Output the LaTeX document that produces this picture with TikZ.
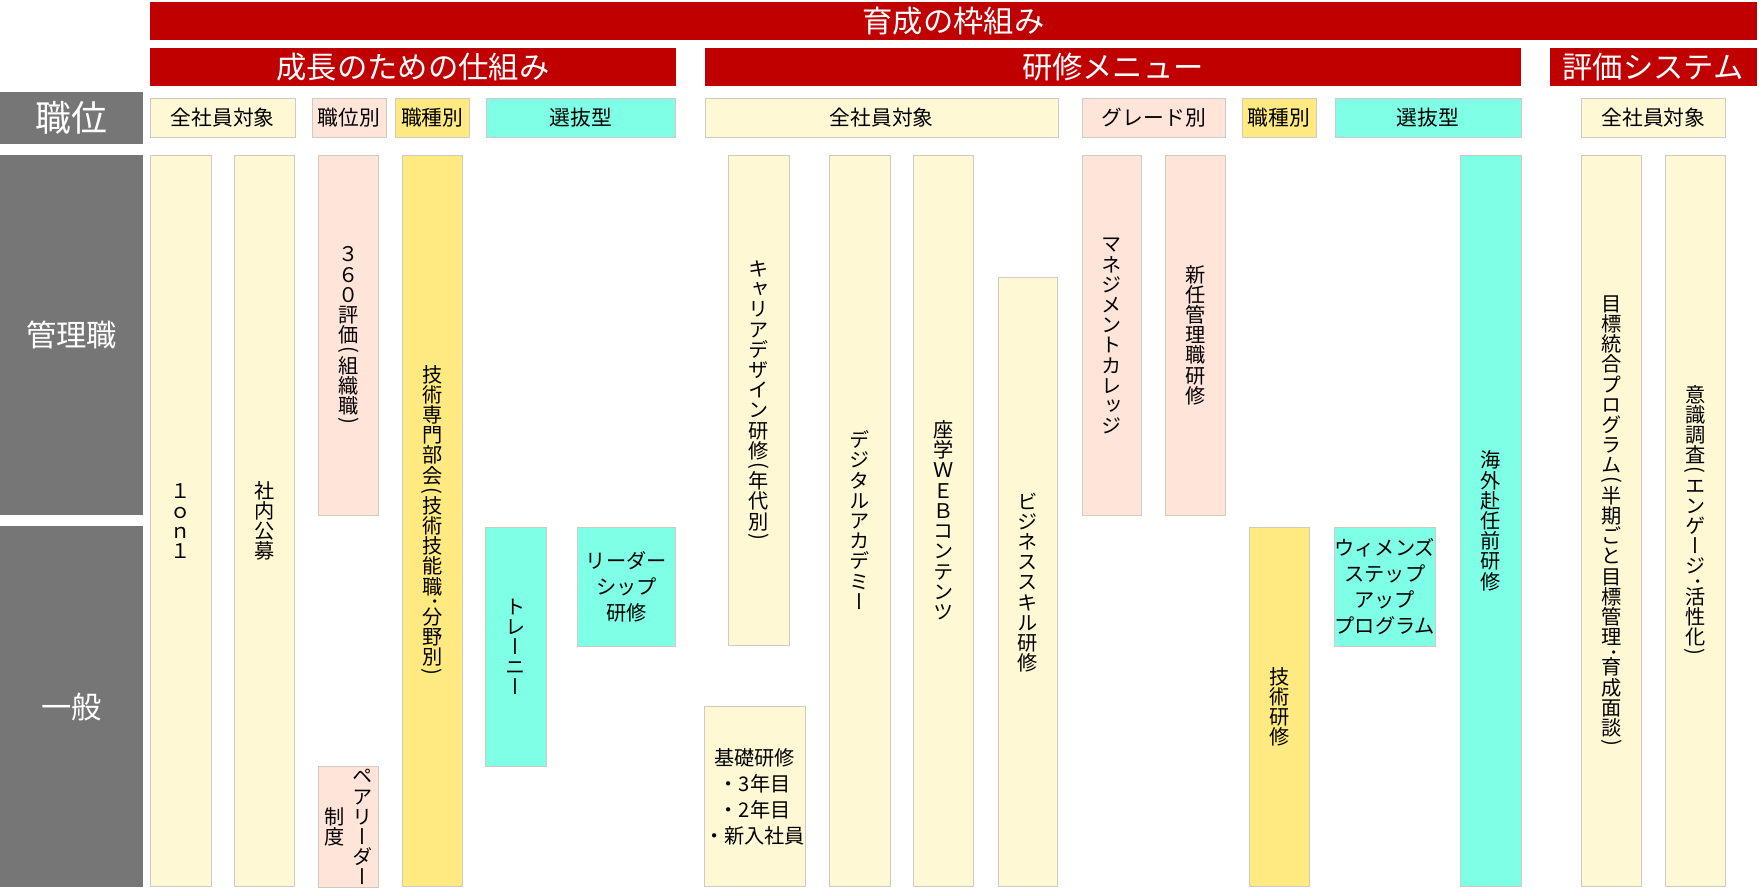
\documentclass[tikz,border=0pt]{standalone}
\usepackage{fontspec}
\usepackage{graphicx}
\newfontfamily\jp{Noto Sans CJK JP}
\newfontfamily\jpv[RawFeature=+vert]{Noto Sans CJK JP}
\definecolor{banred}{HTML}{C00000}
\definecolor{grayb}{HTML}{767676}
\definecolor{cream}{HTML}{FFF8D5}
\definecolor{pinkc}{HTML}{FFE4D9}
\definecolor{yellowc}{HTML}{FFE981}
\definecolor{cyanc}{HTML}{7FFFE6}
\definecolor{boxline}{HTML}{CFCBC0}
\makeatletter
\newbox\vt@box
\def\vt@cell#1{\hbox to 1em{\vrule height .88em depth .12em width 0pt\hss#1\hss}}
\def\vt@half#1{\setbox\vt@box\hbox{\rotatebox{-90}{\jp #1}}%
  \hbox to 1em{\vrule height .25em depth .25em width 0pt\hss
  \raise\dimexpr(\dp\vt@box-\ht\vt@box)/2\relax\box\vt@box\hss}}
\def\vt@one#1{%
  \ifx#1（\vt@half{(}%
  \else\ifx#1）\vt@half{)}%
  \else\ifx#1・\vt@half{･}%
  \else\vt@cell{#1}%
  \fi\fi\fi}
\def\vt@aux#1{\ifx\relax#1\else\vt@one#1\expandafter\vt@aux\fi}
\newcommand\vtx[1]{\vbox{\offinterlineskip\vt@aux#1\relax}}
\makeatother
\newcommand\bx[7]{\node[#6, minimum width={(#4-#2)*1pt}, minimum height={(#5-#3)*1pt}] (#1) at ({(#2+#4)/2},{(#3+#5)/2}) {#7};}
\tikzset{
  banner/.style={fill=banred, inner sep=0pt, text=white, font=\jp\fontsize{27}{30}\selectfont},
  grayhead/.style={fill=grayb, inner sep=0pt, text=white, font=\jp\fontsize{27}{30}\selectfont},
  box/.style={draw=boxline, line width=0.6pt, inner sep=0pt, align=center, text=black, font=\jp\fontsize{18}{23}\selectfont},
  hdr/.style={box, font=\jp\fontsize{18.5}{23}\selectfont},
  cream/.style={box, fill=cream},
  pinkb/.style={box, fill=pinkc},
  yellowb/.style={box, fill=yellowc},
  cyanb/.style={box, fill=cyanc},
}
\begin{document}
\begin{tikzpicture}[x=1pt, y=-1pt]
\useasboundingbox (0,0) rectangle (1568,796.5);
% banners
\bx{top}{134}{2}{1565}{36}{banner}{育成の枠組み}
\bx{grow}{134}{42.5}{602}{76.5}{banner}{成長のための仕組み}
\bx{menu}{628}{42.5}{1355}{76.5}{banner}{研修メニュー}
\bx{eval}{1380.5}{42.5}{1565}{76.5}{banner}{評価システム}
% left gray headers
\bx{pos}{0}{82}{127.5}{128}{grayhead, font=\jp\fontsize{32}{34}\selectfont}{職位}
\bx{mgr}{0}{138}{127.5}{459}{grayhead}{管理職}
\bx{gen}{0}{469}{127.5}{790}{grayhead}{一般}
% category headers
\bx{h1}{134}{88}{263}{122}{hdr, fill=cream}{全社員対象}
\bx{h2}{278}{88}{344}{122}{hdr, fill=pinkc}{職位別}
\bx{h3}{352}{88}{418}{122}{hdr, fill=yellowc}{職種別}
\bx{h4}{433}{88}{602}{122}{hdr, fill=cyanc}{選抜型}
\bx{h5}{628}{88}{943}{122}{hdr, fill=cream}{全社員対象}
\bx{h6}{964}{88}{1092}{122}{hdr, fill=pinkc}{グレード別}
\bx{h7}{1106.5}{88}{1172.5}{122}{hdr, fill=yellowc}{職種別}
\bx{h8}{1189.5}{88}{1355}{122}{hdr, fill=cyanc}{選抜型}
\bx{h9}{1409}{88}{1537}{122}{hdr, fill=cream}{全社員対象}
% columns
\bx{c1}{134}{138}{188}{790}{cream}{\jpv\vtx{１ｏｎ１}}
\bx{c2}{209}{138}{262.5}{790}{cream}{\jpv\vtx{社内公募}}
\bx{c3}{283.5}{138}{337.5}{459}{pinkb}{\jpv\vtx{３６０評価（組織職）}}
\bx{c4}{283.5}{683}{337.5}{790}{pinkb}{\jpv$\vcenter{\vtx{制度}}$\hspace{7pt}$\vcenter{\vtx{ペアリーダー}}$}
\bx{c5}{358}{138}{412}{790}{yellowb}{\jpv\vtx{技術専門部会（技術技能職・分野別）}}
\bx{c6}{432.5}{469.5}{486.5}{683}{cyanb}{\jpv\vtx{トレーニー}}
\bx{c7}{514}{469.5}{602}{576}{cyanb}{リーダー\\シップ\\研修}
\bx{c8}{649}{138}{703}{575}{cream}{\jpv\vtx{キャリアデザイン研修（年代別）}}
\bx{c9}{628}{629.5}{716.5}{790}{cream}{基礎研修\\・3年目\\・2年目\\・新入社員}
\bx{c10}{738.5}{138}{793}{790}{cream}{\jpv\vtx{デジタルアカデミー}}
\bx{c11}{813.5}{138}{867.5}{790}{cream}{\jpv\vtx{座学ＷＥＢコンテンツ}}
\bx{c12}{889}{247.5}{942}{790}{cream}{\jpv\vtx{ビジネススキル研修}}
\bx{c13}{964}{138}{1017}{459}{pinkb}{\jpv\vtx{マネジメントカレッジ}}
\bx{c14}{1038}{138}{1092}{459}{pinkb}{\jpv\vtx{新任管理職研修}}
\bx{c15}{1113}{469.5}{1166.5}{790}{yellowb}{\jpv\vtx{技術研修}}
\bx{c16}{1189.5}{469.5}{1278}{576}{cyanb}{ウィメンズ\\ステップ\\アップ\\プログラム}
\bx{c17}{1301}{138}{1355.5}{790}{cyanb}{\jpv\vtx{海外赴任前研修}}
\bx{c18}{1409}{138}{1462.5}{790}{cream}{\jpv\vtx{目標統合プログラム（半期ごと目標管理・育成面談）}}
\bx{c19}{1483.5}{138}{1537}{790}{cream}{\jpv\vtx{意識調査（エンゲージ・活性化）}}
\end{tikzpicture}
\end{document}
